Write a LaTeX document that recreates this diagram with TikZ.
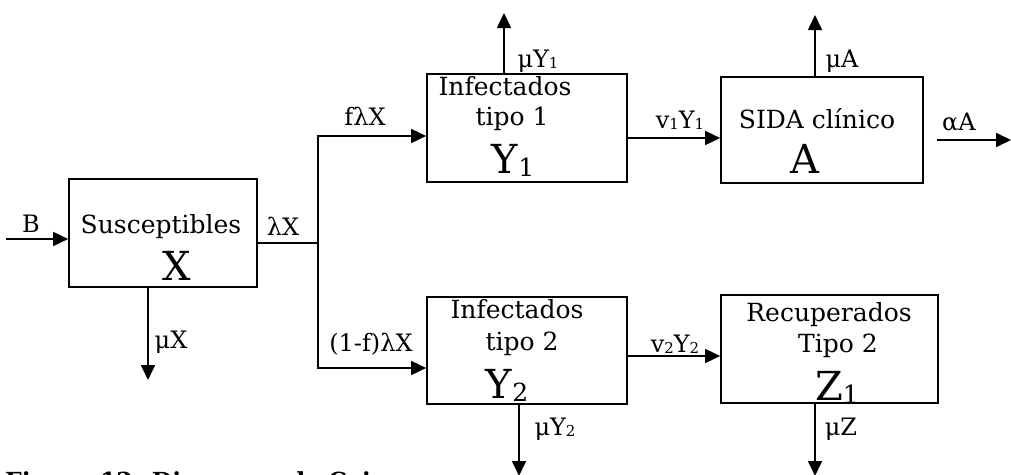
\documentclass[tikz,border=0pt]{standalone}
\usepackage{fontspec}
\setmainfont{DejaVu Serif}
\usetikzlibrary{arrows.meta}
\newcommand{\sbs}[1]{\raisebox{-1.5pt}{\fontsize{15}{15}\selectfont #1}}
\newcommand{\bsb}[1]{\raisebox{-3pt}{\fontsize{25}{25}\selectfont #1}}
\begin{document}
\begin{tikzpicture}[x=1pt,y=-1pt,
  box/.style={draw, line width=1.7pt, inner sep=0pt},
  line/.style={line width=1.7pt},
  arr/.style={line width=1.7pt, -{Triangle[length=15pt,width=14pt]}},
  lbl/.style={anchor=base, inner sep=0pt, font=\fontsize{24}{24}\selectfont},
  txt/.style={anchor=base, inner sep=0pt, font=\fontsize{25}{25}\selectfont},
  big/.style={anchor=base, inner sep=0pt, font=\fontsize{40}{40}\selectfont},
  captxt/.style={anchor=base west, inner sep=0pt, font=\fontsize{23.5}{23.5}\selectfont\bfseries}]
\clip (0,0) rectangle (1011,474);
\fill[white] (0,0) rectangle (1011,474);

% boxes
\node[box, minimum width=188pt, minimum height=108pt] (X)  at (163,233) {};
\node[box, minimum width=200pt, minimum height=108pt] (Y1) at (527,128) {};
\node[box, minimum width=202pt, minimum height=106pt] (A)  at (822,130) {};
\node[box, minimum width=200pt, minimum height=107pt] (Y2) at (527,350.5) {};
\node[box, minimum width=217pt, minimum height=108pt] (Z)  at (829.5,349) {};

% box texts
\node[txt] (tX)  at (161,233) {Susceptibles};
\node[big] (bX)  at (177,280) {X};
\node[txt] (tY1a) at (505,95) {Infectados};
\node[txt] (tY1b) at (512,125) {tipo 1};
\node[big] (bY1) at (513,173) {Y\bsb{1}};
\node[txt] (tA)  at (817,128) {SIDA clínico};
\node[big] (bA)  at (805,173) {A};
\node[txt] (tY2a) at (517,318) {Infectados};
\node[txt] (tY2b) at (522,350) {tipo 2};
\node[big] (bY2) at (507,398) {Y\bsb{2}};
\node[txt] (tZa) at (829,321) {Recuperados};
\node[txt] (tZb) at (838,352) {Tipo 2};
\node[big] (bZ)  at (837,400) {Z\bsb{1}};

% coordinates
\coordinate (b0) at (6,239);
\coordinate (j)  at (318,243);
\coordinate (jt) at (318,136);
\coordinate (jb) at (318,368);
\coordinate (mx) at (148,380);
\coordinate (m1) at (504,13);
\coordinate (ma) at (815,15);
\coordinate (v1) at (700,138);
\coordinate (aa1) at (937,140);
\coordinate (aa2) at (1011,140);
\coordinate (v2) at (700,356);
\coordinate (m2) at (519,476);
\coordinate (mz) at (815,476);

% connectors
\draw[arr] (b0) -- (b0 -| X.west);
\draw[line] (X.east |- j) -- (j);
\draw[arr] (j) -- (jt) -- (jt -| Y1.west);
\draw[arr] (j) -- (jb) -- (jb -| Y2.west);
\draw[arr] (mx |- X.south) -- (mx);
\draw[arr] (m1 |- Y1.north) -- (m1);
\draw[arr] (v1 -| Y1.east) -- (v1 -| A.west);
\draw[arr] (ma |- A.north) -- (ma);
\draw[arr] (aa1) -- (aa2);
\draw[arr] (v2 -| Y2.east) -- (v2 -| Z.west);
\draw[arr] (m2 |- Y2.south) -- (m2);
\draw[arr] (mz |- Z.south) -- (mz);

% labels
\node[lbl] (lB)   at (31,232)  {B};
\node[lbl] (llx)  at (283,235) {λX};
\node[lbl] (lmx)  at (171,348) {μX};
\node[lbl] (lflx) at (365,125) {fλX};
\node[lbl] (lmy1) at (538,67)  {μY\sbs{1}};
\node[lbl] (lv1)  at (680,128) {v\sbs{1}Y\sbs{1}};
\node[lbl] (lma)  at (842,67)  {μA};
\node[lbl] (laa)  at (959,130) {αA};
\node[lbl] (l1f)  at (371,351) {(1-f)λX};
\node[lbl] (lmy2) at (555,435) {μY\sbs{2}};
\node[lbl] (lv2)  at (675,352) {v\sbs{2}Y\sbs{2}};
\node[lbl] (lmz)  at (841,435) {μZ};

% caption (cut off at the bottom edge, as in the reference)
\node[captxt] (caption) at (5,489) {Figura 12. Diagrama de Cajas};
\end{tikzpicture}
\end{document}
